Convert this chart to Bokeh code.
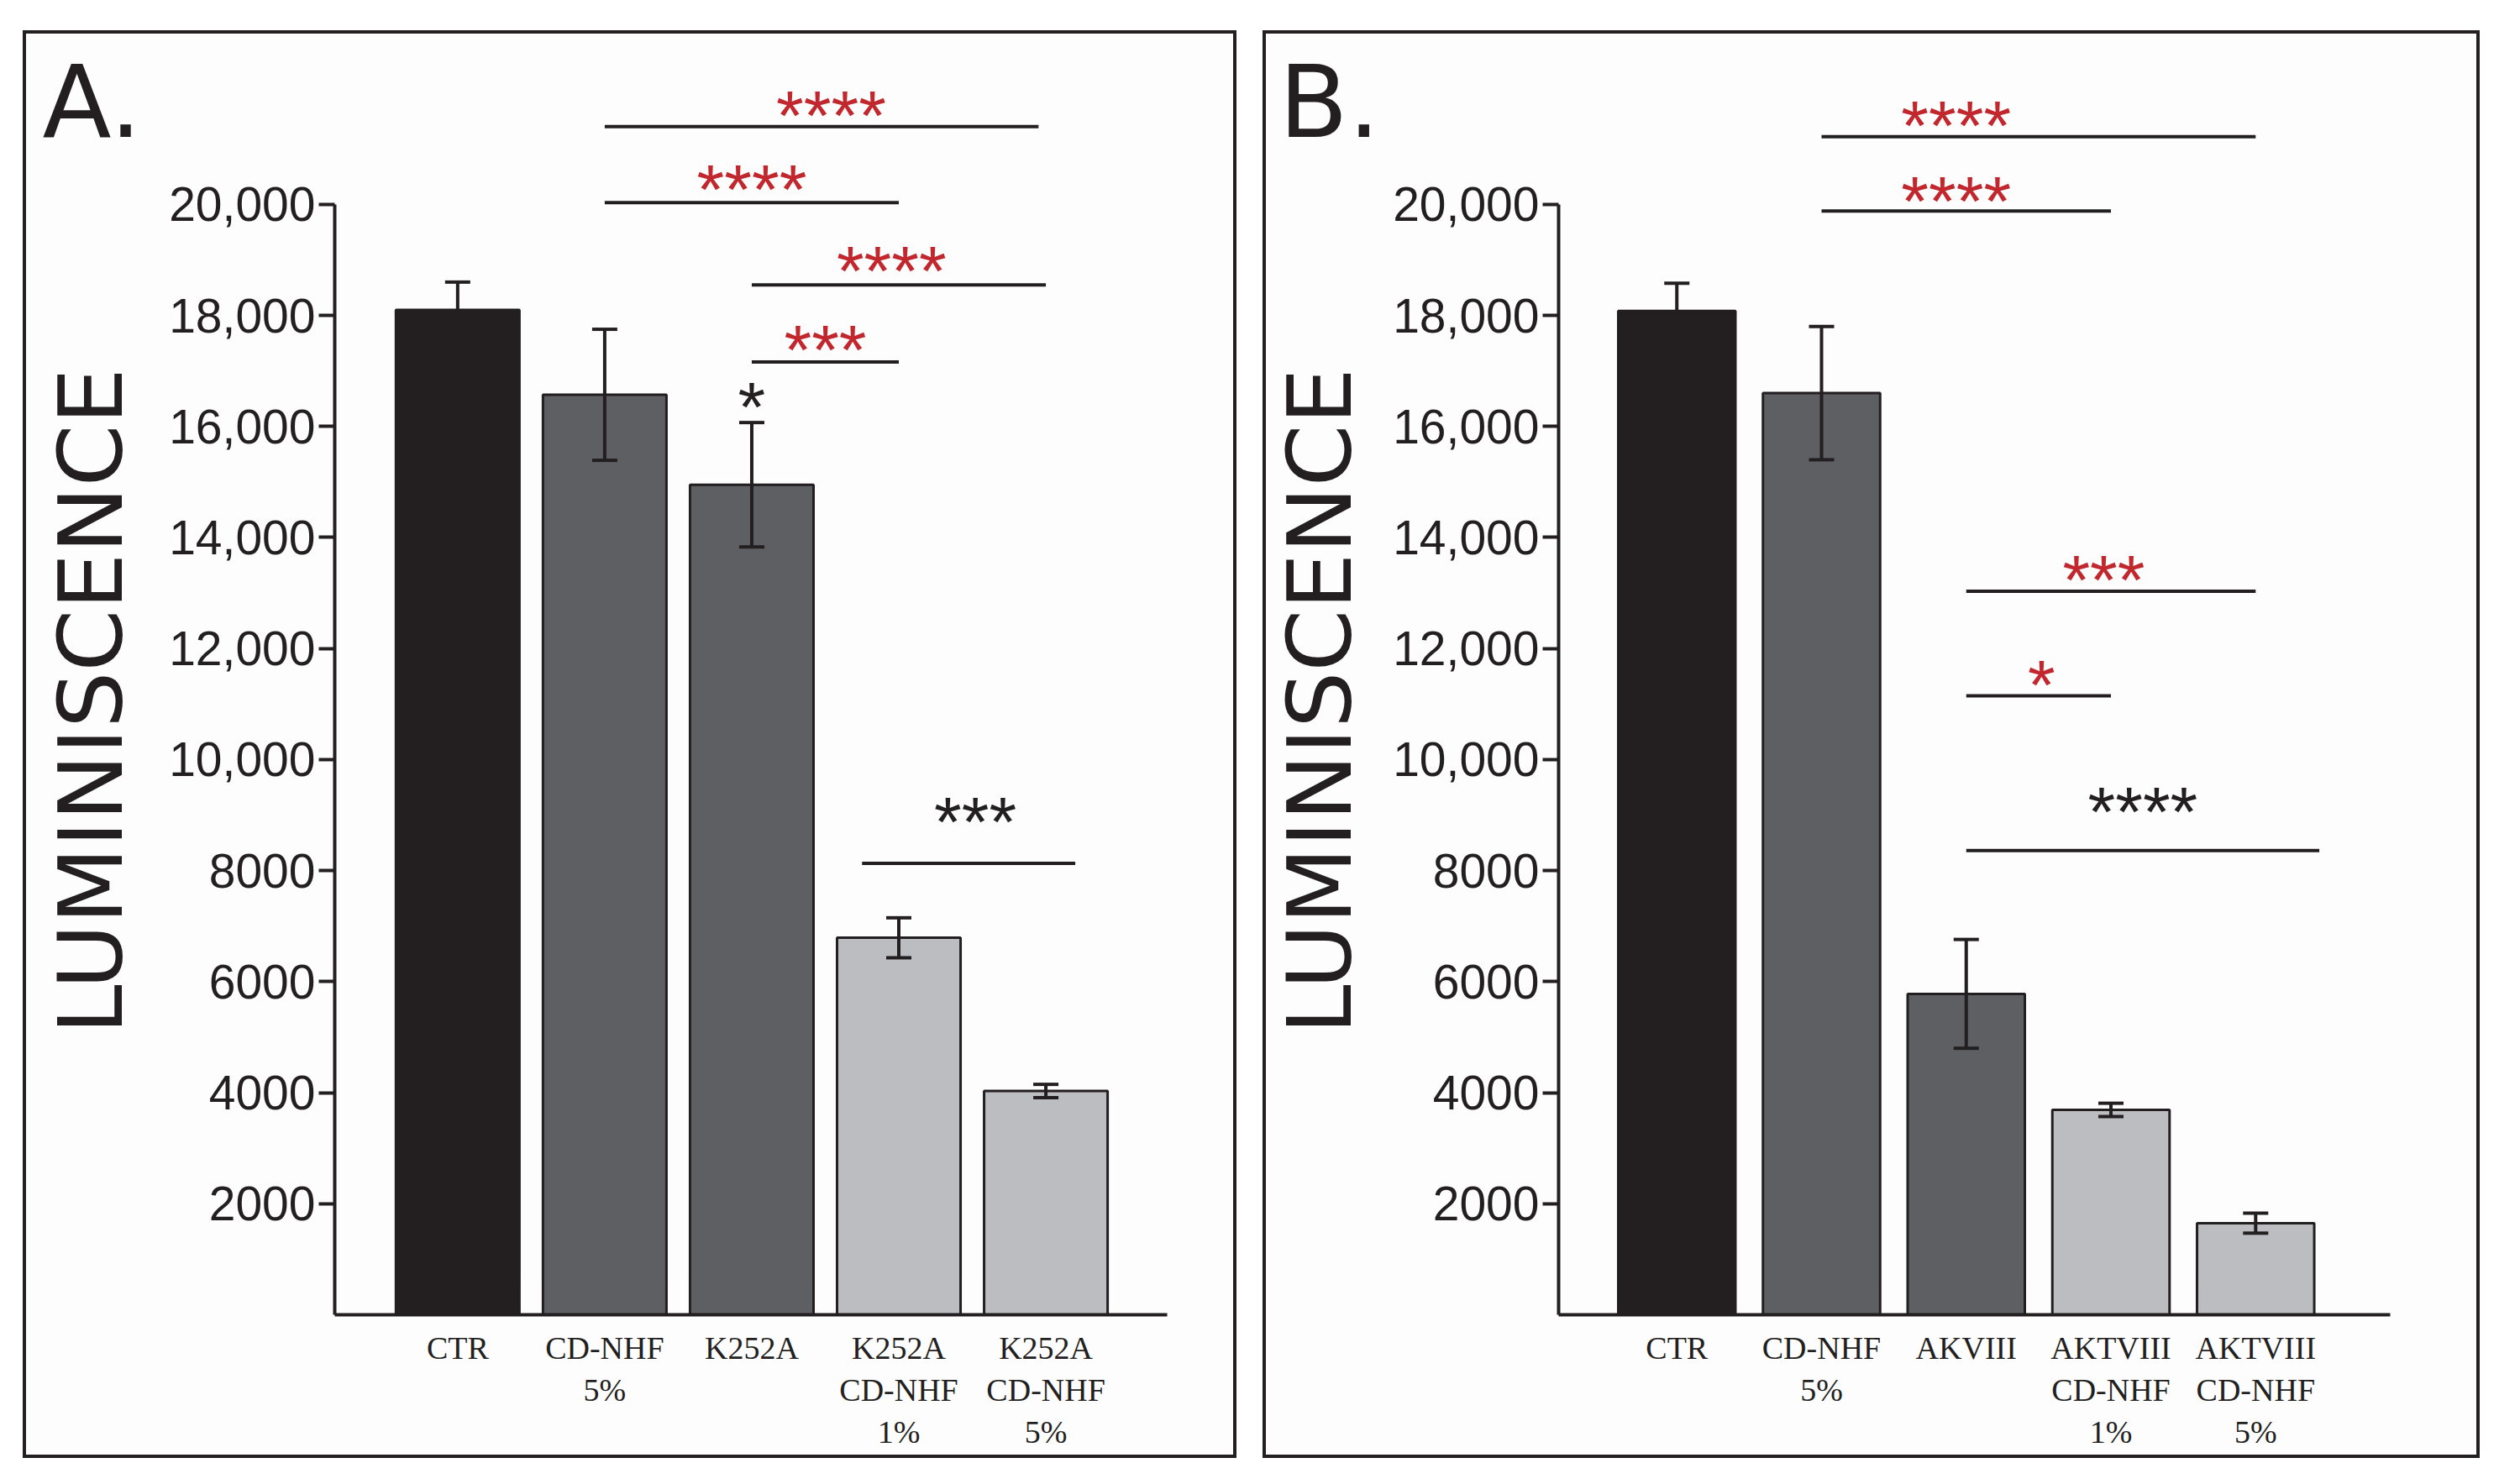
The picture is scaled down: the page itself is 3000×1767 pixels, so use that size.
from bokeh.plotting import figure
from bokeh.models import Range1d, FixedTicker, Whisker, ColumnDataSource, TeeHead
from bokeh.layouts import row
from bokeh.embed import file_html
from bokeh.resources import INLINE
from bokeh.core.properties import value

# ---------------- data ----------------
y_ticks = [2000, 4000, 6000, 8000, 10000, 12000, 14000, 16000, 18000, 20000]
y_tick_labels = ["2000", "4000", "6000", "8000", "10,000", "12,000", "14,000",
                 "16,000", "18,000", "20,000"]

a_labels = ["CTR", "CD-NHF\n5%", "K252A", "K252A\nCD-NHF\n1%", "K252A\nCD-NHF\n5%"]
a_values = [18100, 16570, 14950, 6790, 4030]
a_errors = [500, 1180, 1120, 360, 120]

b_labels = ["CTR", "CD-NHF\n5%", "AKVIII", "AKTVIII\nCD-NHF\n1%", "AKTVIII\nCD-NHF\n5%"]
b_values = [18080, 16600, 5780, 3690, 1650]
b_errors = [500, 1200, 980, 120, 180]

bar_colors = ["#231f20", "#5e5f63", "#5e5f63", "#bcbdc0", "#bcbdc0"]
b_bar_colors = ["#231f20", "#5e5f63", "#5e5f63", "#bcbdc0", "#bcbdc0"]

# significance brackets (category index from, to, luminescence level)
a_br_x0 = [1, 1, 2, 2, 2.75]
a_br_x1 = [3.95, 3, 4, 3, 4.2]
a_br_y = [21400, 20030, 18550, 17160, 8130]
a_st_text = ["****", "****", "****", "***", "***", "*"]
a_st_x = [2.54, 2.0, 2.95, 2.5, 3.52, 2.0]
a_st_y = [21770, 20440, 18980, 17560, 9060, 16520]
a_st_red = [True, True, True, True, False, False]

b_br_x0 = [1, 1, 2, 2, 2]
b_br_x1 = [4, 3, 4, 3, 4.44]
b_br_y = [21220, 19880, 13030, 11150, 8360]
b_st_text = ["****", "****", "***", "*", "****"]
b_st_x = [1.93, 1.93, 2.95, 2.52, 3.22]
b_st_y = [21600, 20230, 13410, 11520, 9230]
b_st_red = [True, True, True, True, False]

INK = "#231f20"
RED = "#c1272d"


def panel(letter, labels, values, errors, colors, bx0, bx1, by, st, sx, sy, sred,
          x_start, x_end, bar_w, width, lpad, rpad, letter_off, label_standoff):
    p = figure(width=width, height=1700, output_backend="svg", toolbar_location=None,
               x_range=Range1d(x_start, x_end), y_range=Range1d(0, 22100),
               min_border_left=lpad, min_border_right=rpad, min_border_top=64,
               min_border_bottom=175)
    p.outline_line_color = None
    p.background_fill_color = "#fdfdfd"
    p.border_fill_color = "#fdfdfd"
    p.xgrid.visible = False
    p.ygrid.visible = False
    p.styles = {"border": "4px solid " + INK}

    xs = list(range(len(values)))
    src = ColumnDataSource(dict(x=xs, top=values, color=colors,
                                upper=[v + e for v, e in zip(values, errors)],
                                lower=[v - e for v, e in zip(values, errors)]))
    p.vbar(x="x", top="top", width=bar_w, bottom=0, fill_color="color",
           line_color=INK, line_width=3, source=src)
    w = Whisker(base="x", upper="upper", lower="lower", source=src, line_color=INK,
                line_width=4, level="overlay",
                upper_head=TeeHead(size=30, line_width=4, line_color=INK),
                lower_head=TeeHead(size=30, line_width=4, line_color=INK))
    p.add_layout(w)

    p.segment(x0=bx0, x1=bx1, y0=by, y1=by, line_color=INK, line_width=4)
    cols = [RED if r else INK for r in sred]
    p.text(x=sx, y=sy, text=st, text_color=cols, text_font=value("Liberation Sans"),
           text_font_size="84px", text_align="center", text_baseline="alphabetic",
           y_offset=12)

    # y axis
    ya = p.yaxis[0]
    ya.ticker = FixedTicker(ticks=y_ticks)
    ya.major_label_overrides = {t: l for t, l in zip(y_ticks, y_tick_labels)}
    ya.bounds = (0, 20000)
    ya.axis_line_width = 4
    ya.axis_line_color = INK
    ya.major_tick_line_width = 4
    ya.major_tick_line_color = INK
    ya.major_tick_out = 19
    ya.major_tick_in = 0
    ya.minor_tick_line_color = None
    ya.major_label_text_font = "Liberation Sans"
    ya.major_label_text_font_size = "57px"
    ya.major_label_text_color = INK
    ya.major_label_standoff = 4
    ya.axis_label = "LUMINISCENCE"
    ya.axis_label_text_font = "DejaVu Sans"
    ya.axis_label_text_font_style = "normal"
    ya.axis_label_text_font_size = "106px"
    ya.axis_label_text_color = INK
    ya.axis_label_standoff = label_standoff

    # x axis
    xa = p.xaxis[0]
    xa.ticker = FixedTicker(ticks=xs)
    xa.major_label_overrides = {i: l for i, l in zip(xs, labels)}
    xa.axis_line_width = 4
    xa.axis_line_color = INK
    xa.major_tick_line_color = None
    xa.minor_tick_line_color = None
    xa.major_label_text_font = "Liberation Serif"
    xa.major_label_text_font_size = "38px"
    xa.major_label_text_color = INK
    xa.major_label_standoff = 12

    # panel letter
    p.title.text = letter
    p.title.text_font = "DejaVu Sans"
    p.title.text_font_size = "120px"
    p.title.text_font_style = "normal"
    p.title.text_color = INK
    p.title.align = "left"
    p.title.offset = letter_off
    p.title.standoff = -172
    return p


pa = panel("A.", a_labels, a_values, a_errors, bar_colors, a_br_x0, a_br_x1, a_br_y,
           a_st_text, a_st_x, a_st_y, a_st_red, -0.836, 4.825, 0.84,
           1445, 367, 87, -348, 28)
pb = panel("B.", b_labels, b_values, b_errors, b_bar_colors, b_br_x0, b_br_x1, b_br_y,
           b_st_text, b_st_x, b_st_y, b_st_red, -0.817, 4.93, 0.81,
           1449, 344, 111, -333, 22)
pa.margin = (36, 0, 0, 27)
pb.margin = (36, 0, 0, 31)

layout = row(pa, pb)
open("out.html", "w").write(file_html(layout, INLINE))
